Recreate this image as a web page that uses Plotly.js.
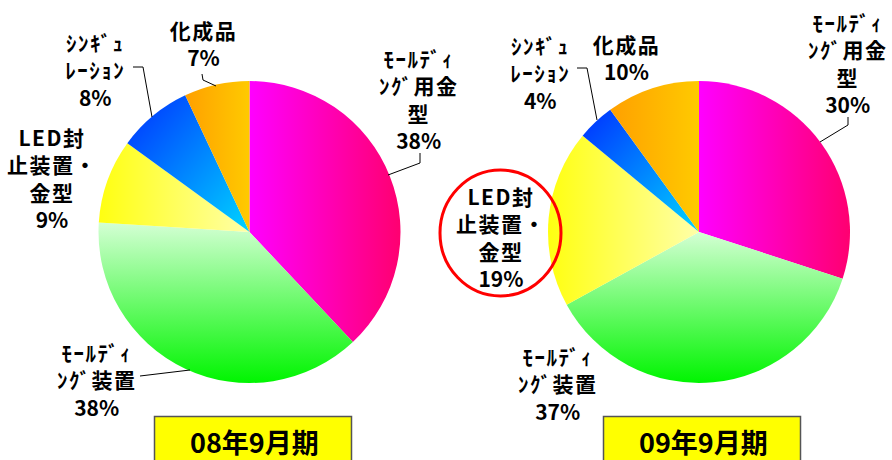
<!DOCTYPE html>
<html>
<head>
<meta charset="utf-8">
<script src="https://cdn.plot.ly/plotly-3.0.1.min.js"></script>
<style>
html,body{margin:0;padding:0;background:#fff;}
#chart{width:892px;height:460px;}
#chart .annotation-text{letter-spacing:1.5px;}
</style>
</head>
<body>
<div id="chart"></div>
<script>
// ---- data ----
const categories = ['ﾓｰﾙﾃﾞｨﾝｸﾞ用金型', 'ﾓｰﾙﾃﾞｨﾝｸﾞ装置', 'LED封止装置・金型', 'ｼﾝｷﾞｭﾚｰｼｮﾝ', '化成品'];
const labelLines = ['ﾓｰﾙﾃﾞｨ<br>ﾝｸﾞ用金<br>型', 'ﾓｰﾙﾃﾞｨ<br>ﾝｸﾞ装置', 'LED封<br>止装置・<br>金型', 'ｼﾝｷﾞｭ<br>ﾚｰｼｮﾝ', '化成品'];
const share08 = [38, 38, 9, 8, 7];
const share09 = [30, 37, 19, 4, 10];
const periods = ['08年9月期', '09年9月期'];

// ---- styles ----
const baseColors = ['#ff00c0', '#80ff80', '#ffff66', '#0099ff', '#ffb000'];
const gradients = [
  {x2: 1, y2: 0, stops: ['#ff00ff', '#ff0070']},
  {x2: 0, y2: 1, stops: ['#d4ffd4', '#00f500']},
  {x2: 1, y2: 0, stops: ['#ffff10', '#ffffa8']},
  {x2: 1, y2: 1, stops: ['#0030ff', '#00d4ff']},
  {x2: 1, y2: 0, stops: ['#ffa000', '#ffca00']}
];
const W = 892, H = 460;
const px = v => v / W;
const py = v => 1 - v / H;
const FONT = '"Noto Sans CJK JP", "Noto Sans", sans-serif';
const tight = s => '<span style="letter-spacing:0px">' + s + '</span>';

// label placement (pixel centers) per pie
const labelPos = [
  [[419, 99], [97, 379], [52, 178], [95, 69], [203, 43]],
  [[848, 63], [558, 383], [501, 237], [540, 72], [626, 58]]
];
const leaders = [
  [[[420,153],[420,163],[388,175]], [[140,376],[190,370]], null, [[133,67],[143,67],[152,117]], [[202,74],[203,80],[216,86]]],
  [[[848,117],[848,125],[820,142]], null, null, [[577,68],[587,68],[597,120]], null]
];
const domains = [
  {x: [px(98.5), px(400.5)], y: [py(383), py(81)]},
  {x: [px(548), px(850)], y: [py(383), py(81)]}
];
const titleCenters = [253, 702];

const shares = [share08, share09];
const traces = shares.map((vals, k) => ({
  type: 'pie',
  labels: categories,
  values: vals,
  sort: false,
  direction: 'clockwise',
  rotation: 0,
  textinfo: 'none',
  hoverinfo: 'none',
  marker: {colors: baseColors, line: {width: 0}},
  domain: domains[k],
  showlegend: false
}));

const annotations = [];
const shapes = [];
shares.forEach((vals, k) => {
  vals.forEach((v, i) => {
    annotations.push({
      xref: 'paper', yref: 'paper',
      x: px(labelPos[k][i][0]), y: py(labelPos[k][i][1]),
      xanchor: 'center', yanchor: 'middle', align: 'center',
      showarrow: false,
      text: labelLines[i] + '<br>' + tight(v + '%'),
      font: {family: FONT, size: 21, color: '#000', weight: 700}
    });
    const L = leaders[k][i];
    if (L) {
      shapes.push({
        type: 'path', xref: 'paper', yref: 'paper',
        path: L.map((p, j) => (j ? 'L' : 'M') + px(p[0]) + ',' + py(p[1])).join(' '),
        line: {color: '#000', width: 1}
      });
    }
  });
  shapes.push({
    type: 'rect', xref: 'paper', yref: 'paper',
    x0: px(titleCenters[k] - 98.5), x1: px(titleCenters[k] + 98.5),
    y0: py(480), y1: py(416.5),
    fillcolor: '#ffff00', line: {color: '#555', width: 1.5}
  });
  annotations.push({
    xref: 'paper', yref: 'paper',
    x: px(titleCenters[k] + 1), y: py(441),
    xanchor: 'center', yanchor: 'middle', showarrow: false,
    text: tight(periods[k]),
    font: {family: FONT, size: 27, color: '#000', weight: 700}
  });
});
// red highlight circle around LED label of 09
shapes.push({
  type: 'circle', xref: 'paper', yref: 'paper',
  x0: px(440), x1: px(561), y0: py(296), y1: py(170),
  line: {color: '#ff0000', width: 3}, fillcolor: 'rgba(0,0,0,0)'
});

const layout = {
  width: W, height: H,
  margin: {l: 0, r: 0, t: 0, b: 0},
  paper_bgcolor: '#fff',
  showlegend: false,
  annotations: annotations,
  shapes: shapes
};

function applyGradients(gd) {
  const svg = gd.querySelector('svg.main-svg');
  if (!svg) return;
  let defs = svg.querySelector('defs');
  const NS = 'http://www.w3.org/2000/svg';
  if (!defs) { defs = document.createElementNS(NS, 'defs'); svg.insertBefore(defs, svg.firstChild); }
  gradients.forEach((g, i) => {
    const id = 'sliceGrad' + i;
    if (document.getElementById(id)) return;
    const lg = document.createElementNS(NS, 'linearGradient');
    lg.setAttribute('id', id);
    lg.setAttribute('x1', 0); lg.setAttribute('y1', 0);
    lg.setAttribute('x2', g.x2); lg.setAttribute('y2', g.y2);
    g.stops.forEach((c, j) => {
      const s = document.createElementNS(NS, 'stop');
      s.setAttribute('offset', j ? '1' : '0');
      s.setAttribute('stop-color', c);
      lg.appendChild(s);
    });
    defs.appendChild(lg);
  });
  gd.querySelectorAll('.pielayer .trace').forEach(tr => {
    tr.querySelectorAll('g.slice').forEach((sl, i) => {
      const p = sl.querySelector('path.surface');
      if (p) p.style.fill = 'url(#sliceGrad' + (i % gradients.length) + ')';
    });
  });
}

Plotly.newPlot('chart', traces, layout, {staticPlot: true}).then(gd => {
  applyGradients(gd);
  gd.on && gd.on('plotly_afterplot', () => applyGradients(gd));
});
</script>
</body>
</html>
